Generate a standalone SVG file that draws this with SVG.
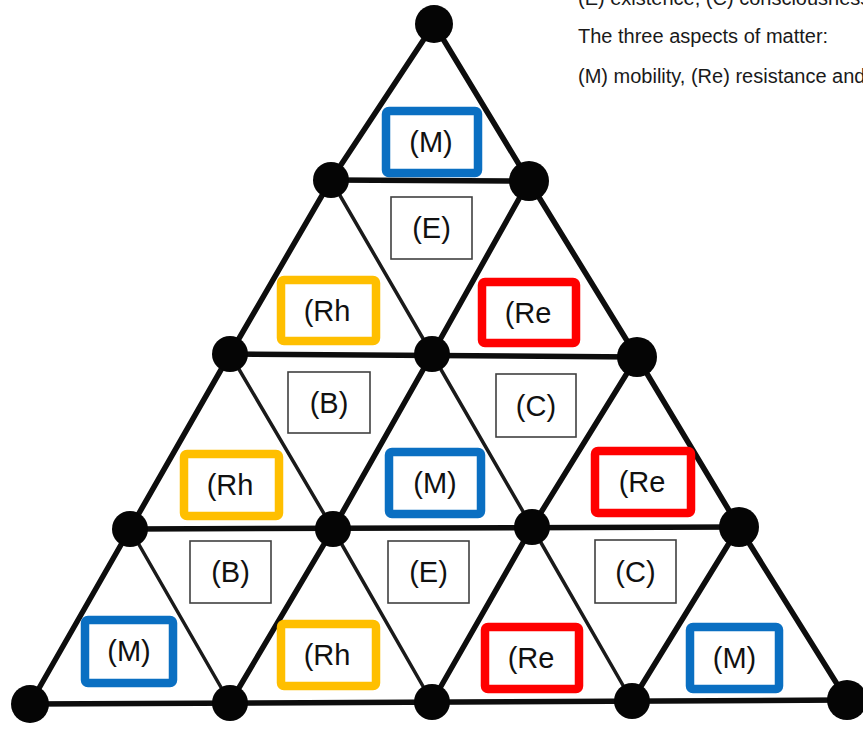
<svg xmlns="http://www.w3.org/2000/svg" width="863" height="731" viewBox="0 0 863 731">
<style>
.bg{fill:#ffffff}
.edge{stroke:#0d0d0d;stroke-width:5.5;stroke-linecap:round;fill:none}
.thin{stroke:#1a1a1a;stroke-width:3.5;stroke-linecap:round;fill:none}
.node{fill:#050505}
.blue{fill:#ffffff;stroke:#0a6fc2;stroke-width:8.5}
.yellow{fill:#ffffff;stroke:#ffbf00;stroke-width:8.5}
.red{fill:#ffffff;stroke:#ff0000;stroke-width:8.5}
.plain{fill:#ffffff;stroke:#404040;stroke-width:1.6}
.lbl{font-family:"Liberation Sans",Arial,sans-serif;font-size:29px;fill:#111111;text-anchor:middle}
.note{font-family:"Liberation Sans",Arial,sans-serif;font-size:20px;fill:#1a1a1a}
</style>
<rect class="bg" x="0" y="0" width="863" height="731"/>
<g id="legend">
<text class="note" x="578" y="5">(E) existence, (C) consciousness</text>
<text class="note" x="578" y="43">The three aspects of matter:</text>
<text class="note" x="578" y="83">(M) mobility, (Re) resistance and</text>
</g>
<g id="connectors">
<polyline class="edge" points="434,24 331,180 230,354 130,529 30,704"/>
<polyline class="edge" points="434,24 529,181 637,357 739,527 847,700"/>
<line class="edge" x1="331" y1="180" x2="529" y2="181"/>
<line class="edge" x1="230" y1="354" x2="637" y2="357"/>
<line class="edge" x1="130" y1="529" x2="739" y2="527"/>
<line class="edge" x1="30" y1="704" x2="847" y2="700"/>
<polyline class="edge" points="529,181 432,354 333,529 230,703"/>
<polyline class="edge" points="637,357 532,527 432,702"/>
<line class="edge" x1="739" y1="527" x2="632" y2="701"/>
<polyline class="thin" points="331,180 432,354 532,527 632,701"/>
<polyline class="thin" points="230,354 333,529 432,702"/>
<line class="thin" x1="130" y1="529" x2="230" y2="703"/>
</g>
<g id="n0"><circle class="node" cx="434" cy="24" r="19"/></g>
<g id="n1a"><circle class="node" cx="331" cy="180" r="18"/></g>
<g id="n1b"><circle class="node" cx="529" cy="181" r="20"/></g>
<g id="n2a"><circle class="node" cx="230" cy="354" r="18"/></g>
<g id="n2b"><circle class="node" cx="432" cy="354" r="18"/></g>
<g id="n2c"><circle class="node" cx="637" cy="357" r="20"/></g>
<g id="n3a"><circle class="node" cx="130" cy="529" r="18"/></g>
<g id="n3b"><circle class="node" cx="333" cy="529" r="18"/></g>
<g id="n3c"><circle class="node" cx="532" cy="527" r="18"/></g>
<g id="n3d"><circle class="node" cx="739" cy="527" r="20"/></g>
<g id="n4a"><circle class="node" cx="30" cy="704" r="19"/></g>
<g id="n4b"><circle class="node" cx="230" cy="703" r="18"/></g>
<g id="n4c"><circle class="node" cx="432" cy="702" r="18"/></g>
<g id="n4d"><circle class="node" cx="632" cy="701" r="18"/></g>
<g id="n4e"><circle class="node" cx="847" cy="700" r="20"/></g>

<g id="box-m1"><rect class="blue" x="386" y="111" width="92" height="62" rx="3"/><text class="lbl" x="431" y="152">(M)</text></g>
<g id="box-e1"><rect class="plain" x="391" y="197" width="81" height="62"/><text class="lbl" x="431.5" y="238">(E)</text></g>
<g id="box-rh1"><rect class="yellow" x="281" y="280" width="95" height="61" rx="3"/><text class="lbl" x="327" y="321">(Rh</text></g>
<g id="box-re1"><rect class="red" x="482" y="282" width="94" height="61" rx="3"/><text class="lbl" x="528" y="323">(Re</text></g>
<g id="box-b1"><rect class="plain" x="288" y="372" width="82" height="61"/><text class="lbl" x="329" y="413">(B)</text></g>
<g id="box-c1"><rect class="plain" x="496" y="374" width="80" height="63"/><text class="lbl" x="536" y="416">(C)</text></g>
<g id="box-rh2"><rect class="yellow" x="184" y="454" width="95" height="62" rx="3"/><text class="lbl" x="230" y="495">(Rh</text></g>
<g id="box-m2"><rect class="blue" x="389" y="452" width="92" height="62" rx="3"/><text class="lbl" x="435" y="493">(M)</text></g>
<g id="box-re2"><rect class="red" x="595" y="451" width="96" height="62" rx="3"/><text class="lbl" x="642" y="492">(Re</text></g>
<g id="box-b2"><rect class="plain" x="190" y="541" width="81" height="62"/><text class="lbl" x="230.5" y="582">(B)</text></g>
<g id="box-e2"><rect class="plain" x="388" y="541" width="81" height="62"/><text class="lbl" x="428.5" y="582">(E)</text></g>
<g id="box-c2"><rect class="plain" x="595" y="540" width="81" height="63"/><text class="lbl" x="635.5" y="582">(C)</text></g>
<g id="box-m3"><rect class="blue" x="85" y="620" width="88" height="63" rx="3"/><text class="lbl" x="129" y="661">(M)</text></g>
<g id="box-rh3"><rect class="yellow" x="281" y="624" width="95" height="62" rx="3"/><text class="lbl" x="327" y="665">(Rh</text></g>
<g id="box-re3"><rect class="red" x="485" y="627" width="94" height="62" rx="3"/><text class="lbl" x="531" y="668">(Re</text></g>
<g id="box-m4"><rect class="blue" x="690" y="627" width="89" height="62" rx="3"/><text class="lbl" x="734.5" y="668">(M)</text></g>
</svg>
